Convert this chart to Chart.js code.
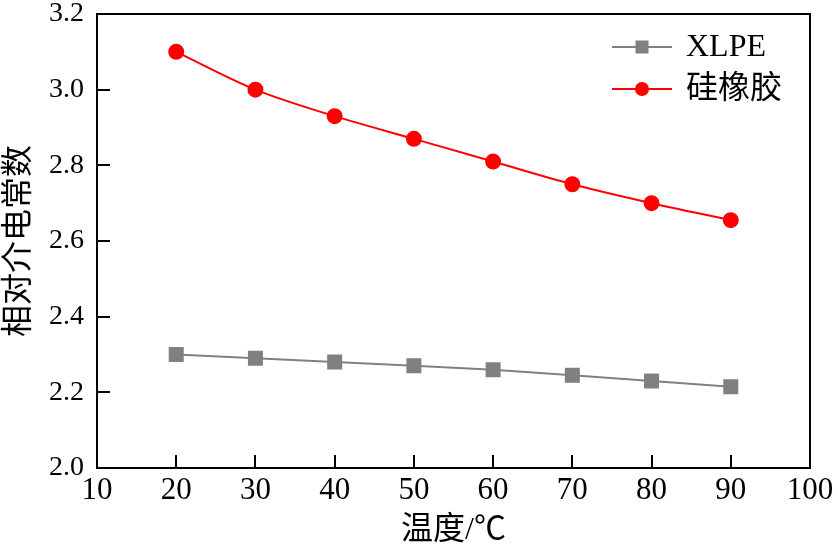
<!DOCTYPE html>
<html>
<head>
<meta charset="utf-8">
<script src="https://cdn.jsdelivr.net/npm/chart.js@4/dist/chart.umd.min.js"></script>
<style>
html,body{margin:0;padding:0;background:#fff;}
#wrap{width:838px;height:550px;position:relative;}
</style>
</head>
<body>
<div id="wrap"><canvas id="c" width="838" height="550"></canvas></div>
<script>
const temperatures = [20, 30, 40, 50, 60, 70, 80, 90];
const xlpeValues = [2.30, 2.29, 2.28, 2.27, 2.26, 2.245, 2.23, 2.215];
const siliconeValues = [3.10, 3.00, 2.93, 2.87, 2.81, 2.75, 2.70, 2.655];
const seriesNames = ['XLPE', '硅橡胶'];
const xTitle = '温度/℃';
const yTitle = '相对介电常数';

const serif = "'Liberation Serif','Noto Sans CJK SC',serif";

const innerTicks = {
  id: 'innerTicks',
  afterDraw(chart) {
    const ctx = chart.ctx;
    const a = chart.chartArea;
    const xs = chart.scales.x, ys = chart.scales.y;
    ctx.save();
    ctx.strokeStyle = '#000';
    ctx.lineWidth = 2;
    ctx.strokeRect(a.left, a.top, a.right - a.left, a.bottom - a.top);
    ctx.beginPath();
    xs.ticks.forEach(t => {
      const px = Math.round(xs.getPixelForValue(t.value));
      ctx.moveTo(px, a.bottom);
      ctx.lineTo(px, a.bottom - 13);
    });
    ys.ticks.forEach(t => {
      const py = Math.round(ys.getPixelForValue(t.value));
      ctx.moveTo(a.left, py);
      ctx.lineTo(a.left + 13, py);
    });
    ctx.stroke();
    // legend inside the plot area
    const items = chart.data.datasets;
    const lx0 = 612, lx1 = 672, tx = 686;
    const ly = [47, 89];
    items.forEach((ds, i) => {
      const y = ly[i];
      ctx.strokeStyle = ds.borderColor;
      ctx.lineWidth = 2;
      ctx.beginPath();
      ctx.moveTo(lx0, y); ctx.lineTo(lx1, y);
      ctx.stroke();
      ctx.fillStyle = ds.backgroundColor;
      if (ds.pointStyle === 'rect') {
        ctx.fillRect(642 - 6.5, y - 6.5, 13, 13);
      } else {
        ctx.beginPath();
        ctx.arc(642, y, 7, 0, Math.PI * 2);
        ctx.fill();
      }
      ctx.fillStyle = '#000';
      ctx.font = "32px " + serif;
      ctx.textBaseline = 'middle';
      ctx.textAlign = 'left';
      ctx.fillText(ds.label, tx, y + 1);
    });
    ctx.restore();
  }
};

new Chart(document.getElementById('c'), {
  type: 'line',
  data: {
    datasets: [
      {
        label: seriesNames[0],
        data: temperatures.map((t, i) => ({x: t, y: xlpeValues[i]})),
        borderColor: '#808080',
        backgroundColor: '#808080',
        borderWidth: 2,
        pointStyle: 'rect',
        pointRadius: 9.2,
        pointHoverRadius: 9.2,
        tension: 0
      },
      {
        label: seriesNames[1],
        data: temperatures.map((t, i) => ({x: t, y: siliconeValues[i]})),
        borderColor: '#ff0000',
        backgroundColor: '#ff0000',
        borderWidth: 2,
        pointStyle: 'circle',
        pointRadius: 7,
        pointHoverRadius: 7,
        cubicInterpolationMode: 'monotone'
      }
    ]
  },
  options: {
    responsive: false,
    animation: false,
    devicePixelRatio: 1,
    layout: {padding: {top: 14, right: 28, left: 0, bottom: 0}},
    plugins: {legend: {display: false}, tooltip: {enabled: false}},
    scales: {
      x: {
        type: 'linear',
        min: 10, max: 100,
        grid: {display: false, drawTicks: false},
        border: {display: false},
        ticks: {stepSize: 10, padding: 4, color: '#000', font: {family: serif, size: 31}, maxRotation: 0},
        title: {display: true, text: xTitle, color: '#000', font: {family: serif, size: 32}, padding: {top: 0, bottom: 0}},
        afterFit(s) { s.height = 82; s.paddingLeft = 0; s.paddingRight = 0; }
      },
      y: {
        min: 2.0, max: 3.2,
        grid: {display: false, drawTicks: false},
        border: {display: false},
        ticks: {stepSize: 0.2, padding: 13, color: '#000', font: {family: serif, size: 28}, callback: v => v.toFixed(1)},
        title: {display: true, text: yTitle, color: '#000', font: {family: serif, size: 32}, padding: {top: 0, bottom: 2}},
        afterFit(s) { s.width = 97; s.paddingTop = 0; s.paddingBottom = 0; }
      }
    }
  },
  plugins: [innerTicks]
});
</script>
</body>
</html>
